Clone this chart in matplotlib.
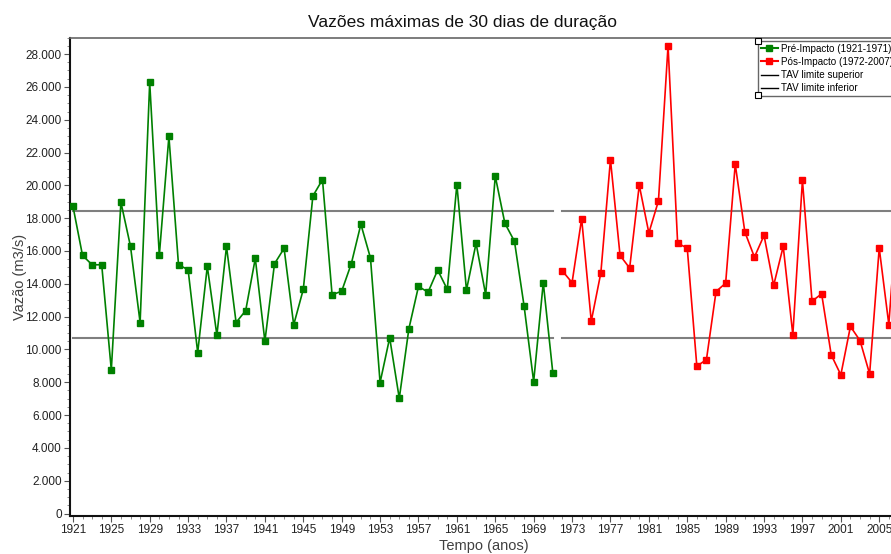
import numpy as np
import matplotlib
matplotlib.use("Agg")
import matplotlib.pyplot as plt
from matplotlib.lines import Line2D
from matplotlib.ticker import MultipleLocator, FuncFormatter

plt.rcParams['font.family'] = ['Liberation Sans', 'DejaVu Sans']

# pre-impact series (1921-1971), m3/s
anos_pre = list(range(1921, 1972))
vazao_pre = [18740, 15730, 15160, 15160, 8750, 18970, 16280, 11640, 26270, 15730,
             22980, 15160, 14860, 9810, 15060, 10870, 16280, 11640, 12370, 15550,
             10500, 15220, 16160, 11500, 13660, 19350, 20350, 13330, 13550, 15220,
             17630, 15570, 7980, 10710, 7020, 11260, 13840, 13490, 14840, 13660,
             20050, 13620, 16470, 13330, 20560, 17690, 16590, 12660, 8040, 14070,
             8550]

# post-impact series (1972-2007), m3/s
anos_pos = list(range(1972, 2008))
vazao_pos = [14780, 14070, 17970, 11720, 14670, 21570, 15730, 14960, 20010, 17100,
             19050, 28510, 16470, 16180, 8980, 9380, 13530, 14040, 21290, 17160,
             15630, 16950, 13900, 16280, 10890, 20310, 12940, 13390, 9670, 8450,
             11400, 10540, 8510, 16180, 11520, 19500]

# TAV limits per period
tav_sup = [18440, 18440]
tav_inf = [10680, 10680]
periodos = [(1921, 1971), (1972, 2007)]

fig = plt.figure(figsize=(8.91, 5.54), dpi=100)
ax = fig.add_axes([0.0786, 0.0686, 0.9405, 0.8634])

for (a0, a1), s, i in zip(periodos, tav_sup, tav_inf):
    ax.plot([a0, a1], [s, s], color='#7f7f7f', lw=1.5, zorder=1)
    ax.plot([a0, a1], [i, i], color='#7f7f7f', lw=1.5, zorder=1)

ax.plot(anos_pre, vazao_pre, color='#008000', lw=1.2, marker='s', ms=4.6, zorder=3)
ax.plot(anos_pos, vazao_pos, color='#ff0000', lw=1.2, marker='s', ms=4.6, zorder=3)

ax.set_xlim(1920.7, 2008)
ax.set_ylim(-150, 29000)

ax.xaxis.set_major_locator(MultipleLocator(4, offset=1))
ax.xaxis.set_minor_locator(MultipleLocator(1))
ax.yaxis.set_major_locator(MultipleLocator(2000))
ax.yaxis.set_minor_locator(MultipleLocator(500))
ax.yaxis.set_major_formatter(FuncFormatter(lambda v, p: f"{int(v):,}".replace(",", ".")))

ax.tick_params(which='major', length=4, width=0.8, color='#555555', labelsize=8.5,
               labelcolor='#222222', pad=2)
ax.tick_params(which='minor', length=2, width=0.6, color='#777777')

for side in ['top', 'right']:
    ax.spines[side].set_color('#666666')
    ax.spines[side].set_linewidth(1.2)
for side in ['left', 'bottom']:
    ax.spines[side].set_color('#111111')
    ax.spines[side].set_linewidth(1.5)

ax.set_title('Vazões máximas de 30 dias de duração', fontsize=12.5, color='#111111',
             pad=8, x=0.468)
ax.set_xlabel('Tempo (anos)', fontsize=10.5, color='#404040')
ax.xaxis.set_label_coords(0.494, -0.048)
ax.set_ylabel('Vazão (m3/s)', fontsize=10.5, color='#404040', labelpad=-1)

handles = [
    Line2D([], [], color='#008000', lw=1.5, marker='s', ms=4),
    Line2D([], [], color='#ff0000', lw=1.5, marker='s', ms=4),
    Line2D([], [], color='black', lw=1),
    Line2D([], [], color='black', lw=1),
]
labels = ['Pré-Impacto (1921-1971)', 'Pós-Impacto (1972-2007)',
          'TAV limite superior', 'TAV limite inferior']
leg = ax.legend(handles, labels, loc='upper left', bbox_to_anchor=(0.821, 0.994),
                fontsize=7.1, frameon=True, fancybox=False, handlelength=1.7,
                handletextpad=0.35, borderpad=0.3, labelspacing=0.33, borderaxespad=0)
leg.get_frame().set_edgecolor('#404040')
leg.get_frame().set_linewidth(1)

# selection handles on the legend box corners
ax.plot([0.8215, 0.8215], [0.994, 0.881], transform=ax.transAxes, ls='none',
        marker='s', ms=4, mfc='white', mec='black', mew=0.8, zorder=10, clip_on=False)

fig.savefig('out.png', dpi=100)
